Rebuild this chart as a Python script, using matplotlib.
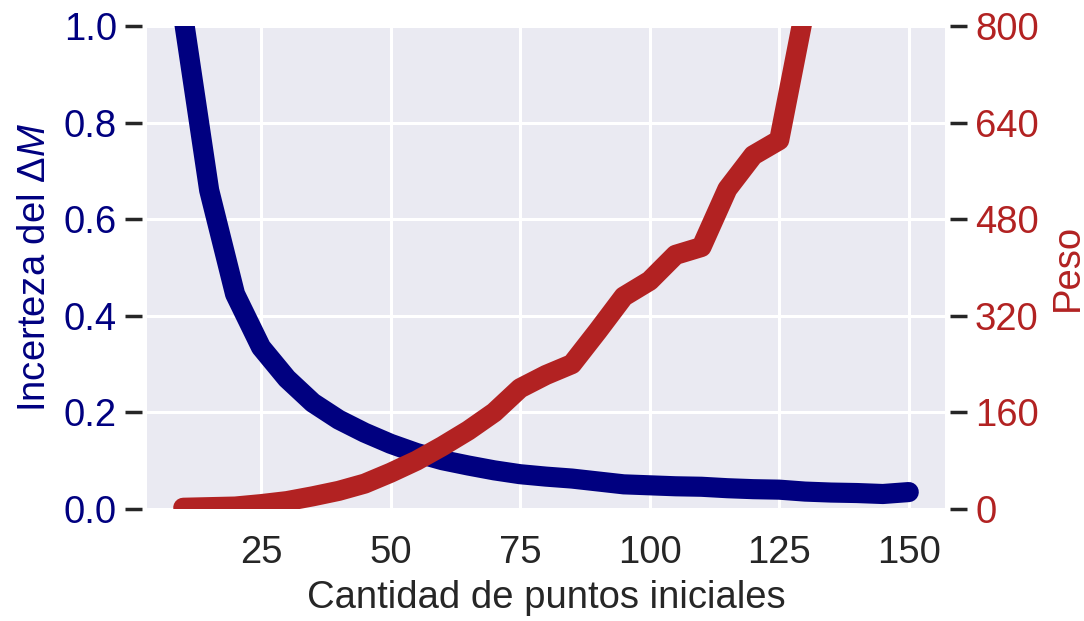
import matplotlib
matplotlib.use("Agg")
import matplotlib.pyplot as plt
import seaborn as sns

sns.set_theme(style="darkgrid")
plt.rcParams["font.family"] = ["Liberation Sans", "DejaVu Sans"]
plt.rcParams["mathtext.fontset"] = "custom"
plt.rcParams["mathtext.rm"] = "Liberation Sans"
plt.rcParams["mathtext.it"] = "Liberation Sans:italic"

# Number of initial points
puntos = [10, 15, 20, 25, 30, 35, 40, 45, 50, 55, 60, 65, 70, 75, 80,
          85, 90, 95, 100, 105, 110, 115, 120, 125, 130, 135, 140, 145, 150]

# Uncertainty of Delta M
incerteza = [1.02, 0.66, 0.445, 0.335, 0.27, 0.22, 0.185, 0.158, 0.135, 0.116,
             0.101, 0.09, 0.08, 0.072, 0.067, 0.063, 0.057, 0.051, 0.049, 0.047,
             0.046, 0.043, 0.041, 0.040, 0.036, 0.034, 0.033, 0.031, 0.035]

# Weight
peso = [2, 3, 4, 8, 13, 21, 30, 42, 60, 80, 104, 130, 160, 200, 222,
        240, 295, 352, 378, 421, 434, 530, 586, 611, 830, 1050, 1300, 1550, 1800]

left_ticks = [0.0, 0.2, 0.4, 0.6, 0.8, 1.0]
right_ticks = [0, 160, 320, 480, 640, 800]
x_ticks = [25, 50, 75, 100, 125, 150]

c_left = "navy"
c_right = "firebrick"
fs = 27.5

fig = plt.figure(figsize=(10.84, 6.21), dpi=100)
ax = fig.add_axes([0.1356, 0.1804, 0.7362, 0.7776])
ax.plot(puntos, incerteza, color=c_left, lw=14.5, solid_capstyle="round")
ax.set_ylim(0, 1.0)
ax.set_yticks(left_ticks)
ax.set_xticks(x_ticks)
ax.set_xlabel("Cantidad de puntos iniciales", fontsize=fs, color="#262626",
              labelpad=6)
ax.set_ylabel(r"Incerteza del $\Delta M$", fontsize=fs, color=c_left,
              labelpad=8)
ax.tick_params(axis="y", colors="#262626", labelcolor=c_left, labelsize=fs,
               length=12, width=2.5, direction="out", left=True, pad=6)
ax.tick_params(axis="x", labelsize=fs, labelcolor="#262626", bottom=False, pad=13)
ax.grid(True, color="white", lw=2.2)
for s in ax.spines.values():
    s.set_visible(False)
ax.spines["left"].set_position(("outward", 3.6))

ax2 = ax.twinx()
ax2.plot(puntos, peso, color=c_right, lw=14.5, solid_capstyle="round")
ax2.set_ylim(0, 800)
ax2.set_yticks(right_ticks)
ax2.set_ylabel("Peso", fontsize=fs, color=c_right, labelpad=8)
ax2.tick_params(axis="y", colors="#262626", labelcolor=c_right, labelsize=fs,
                length=12, width=2.5, direction="out", right=True, pad=6)
ax2.grid(False)
for s in ax2.spines.values():
    s.set_visible(False)
ax2.spines["right"].set_position(("outward", 3.6))

fig.savefig("out.png", dpi=100)
